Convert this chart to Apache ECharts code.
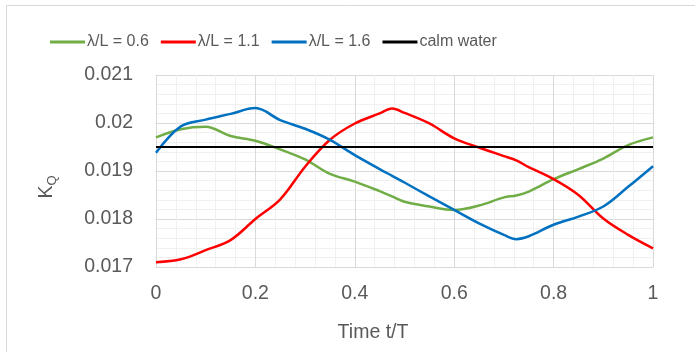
<!DOCTYPE html>
<html>
<head>
<meta charset="utf-8">
<script src="https://cdn.jsdelivr.net/npm/echarts@6/dist/echarts.min.js"></script>
<style>html,body{margin:0;padding:0;background:#fff}#c{width:695px;height:352px}</style>
</head>
<body>
<div id="c"></div>
<script>
var timeT = [0, 0.05, 0.1, 0.15, 0.2, 0.25, 0.3, 0.35, 0.4, 0.45, 0.475, 0.5, 0.55, 0.6, 0.65, 0.7, 0.725, 0.75, 0.8, 0.85, 0.9, 0.95, 1.0];
var kq06 = [0.01970, 0.01987, 0.01992, 0.01973, 0.01963, 0.01945, 0.01924, 0.01894, 0.01878, 0.01858, 0.01847, 0.01836, 0.01826, 0.01819, 0.01828, 0.01845, 0.01849, 0.01857, 0.01883, 0.01904, 0.01926, 0.01954, 0.01970];
var kq11 = [0.01710, 0.01716, 0.01735, 0.01756, 0.01800, 0.01841, 0.01909, 0.01965, 0.01999, 0.02020, 0.02030, 0.02021, 0.01999, 0.01968, 0.01949, 0.01931, 0.01922, 0.01908, 0.01883, 0.01850, 0.01801, 0.01767, 0.01739];
var kq16 = [0.01938, 0.01993, 0.02007, 0.02019, 0.02031, 0.02006, 0.01988, 0.01965, 0.01933, 0.01904, 0.01890, 0.01876, 0.01847, 0.01819, 0.01791, 0.01767, 0.01758, 0.01764, 0.01788, 0.01805, 0.01826, 0.01867, 0.01910];
var calmT = [0, 1];
var calmKq = [0.0195, 0.0195];
var seriesNames = ['λ/L = 0.6', 'λ/L = 1.1', 'λ/L = 1.6', 'calm water'];
var xTickLabels = ['0', '0.2', '0.4', '0.6', '0.8', '1'];
var yTickLabels = ['0.017', '0.018', '0.019', '0.02', '0.021'];
var xMin = 0, xMax = 1, xStep = 0.2;
var yMin = 0.017, yMax = 0.021, yStep = 0.001;

function pairs(xs, ys) { return xs.map(function (x, i) { return [x, ys[i]]; }); }

var chart = echarts.init(document.getElementById('c'), null, {renderer: 'canvas'});
var font = 'Liberation Sans';
var txt = '#595959';
function mk(name, xs, ys, color, w, smooth) {
  return {
    name: name, type: 'line', data: pairs(xs, ys), smooth: smooth ? 0.35 : false,
    showSymbol: false, symbol: 'none', animation: false,
    lineStyle: {color: color, width: w}, itemStyle: {color: color}
  };
}
chart.setOption({
  animation: false,
  textStyle: {fontFamily: font},
  grid: {left: 156, right: 42, top: 75, bottom: 85, containLabel: false},
  legend: {
    left: 45, top: 29, itemWidth: 35, itemHeight: 3, itemGap: 12, icon: 'rect',
    textStyle: {fontFamily: font, fontSize: 16, color: txt, padding: [0, 0, 0, -3]},
    data: seriesNames
  },
  xAxis: {
    type: 'value', min: xMin, max: xMax, interval: xStep,
    axisLine: {show: true, lineStyle: {color: '#d9d9d9', width: 1}},
    axisTick: {show: false},
    axisLabel: {fontFamily: font, fontSize: 19.5, color: txt, margin: 17,
      formatter: function (v) { return xTickLabels[Math.round((v - xMin) / xStep)]; }},
    splitLine: {show: true, lineStyle: {color: '#d9d9d9', width: 1}},
    minorTick: {show: false, splitNumber: 5},
    minorSplitLine: {show: true, lineStyle: {color: '#f0f0f0', width: 1}}
  },
  yAxis: {
    type: 'value', min: yMin, max: yMax, interval: yStep,
    axisLine: {show: true, lineStyle: {color: '#d9d9d9', width: 1}},
    axisTick: {show: false},
    axisLabel: {fontFamily: font, fontSize: 19.5, color: txt, margin: 23,
      formatter: function (v) { return yTickLabels[Math.round((v - yMin) / yStep)]; }},
    splitLine: {show: true, lineStyle: {color: '#d9d9d9', width: 1}},
    minorTick: {show: false, splitNumber: 5},
    minorSplitLine: {show: true, lineStyle: {color: '#f0f0f0', width: 1}}
  },
  series: [
    mk(seriesNames[0], timeT, kq06, '#70AD47', 2.5, true),
    mk(seriesNames[1], timeT, kq11, '#FF0000', 2.5, true),
    mk(seriesNames[2], timeT, kq16, '#0070C0', 2.5, true),
    mk(seriesNames[3], calmT, calmKq, '#000000', 2, false)
  ],
  graphic: [
    {type: 'rect', shape: {x: 6.5, y: 5.5, width: 720, height: 420}, silent: true, z: -10,
      style: {fill: 'none', stroke: '#d9d9d9', lineWidth: 1}},
    {type: 'text', x: 373, y: 333, silent: true,
      style: {text: 'Time t/T', fontFamily: font, fontSize: 19.5, fill: txt, align: 'center', verticalAlign: 'middle'}},
    {type: 'text', x: 47, y: 187, rotation: Math.PI / 2, silent: true,
      style: {text: '{k|K}{q|Q}', align: 'center', verticalAlign: 'middle',
        rich: {k: {fontFamily: font, fontSize: 19.5, fill: txt, color: txt},
               q: {fontFamily: font, fontSize: 13, fill: txt, color: txt, padding: [10, 0, 0, 0]}}}}
  ]
});
</script>
</body>
</html>
